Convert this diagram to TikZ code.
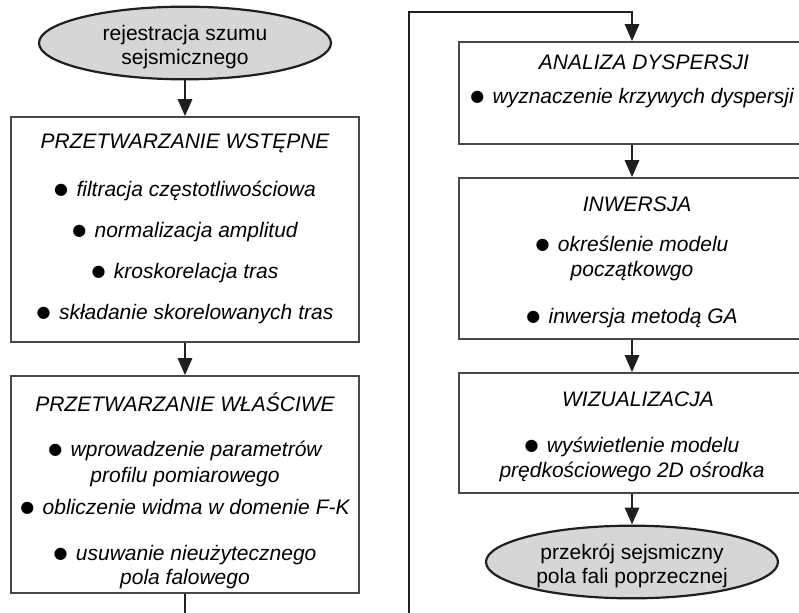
\documentclass[tikz,border=0pt]{standalone}
\usepackage{fontspec}
\setmainfont{Liberation Sans}
\newfontfamily\dotfont{DejaVu Sans}
\usepackage{xcolor}
\usetikzlibrary{arrows.meta, shapes.geometric, positioning}

\definecolor{ovalfill}{gray}{0.84}
\definecolor{boxline}{gray}{0.28}
\definecolor{flowline}{gray}{0.12}
\newcommand{\itemdot}{\raisebox{2.5pt}{\dotfont\upshape\fontsize{16}{24}\selectfont ●}\hspace{0.4em}}
\newcommand{\capstrut}{\rule{0pt}{20pt}}
\newcommand{\ovalstrut}{\rule{0pt}{23pt}}

\begin{document}
\begin{tikzpicture}[
    x=1pt, y=-1pt,
    font=\fontsize{21}{24}\selectfont,
    stage/.style={draw=boxline, line width=1.6pt, fill=white, inner sep=0pt},
    caption/.style={align=center, inner sep=0pt, font=\fontsize{21}{24}\selectfont\itshape},
    oval/.style={draw=flowline, line width=2.2pt, ellipse, fill=ovalfill, align=center, inner sep=0pt, minimum width=292pt},
    flow/.style={draw=flowline, line width=2.8pt, -{Triangle[length=17pt, width=14pt]}}
]

% Kadr rysunku
\clip (0,0) rectangle (799,612);

% Lewa kolumna
\node[oval, minimum height=62pt] (record) at (185,43) {\ovalstrut rejestracja szumu\\sejsmicznego};

\node[stage, minimum width=348pt, minimum height=225pt] (pre) at (185,229.5) {};
\node[caption, below=12.5pt of pre.north] (preText) {\capstrut PRZETWARZANIE WSTĘPNE\\[24pt]
    \itemdot filtracja częstotliwościowa\\[17pt]
    \itemdot normalizacja amplitud\\[17pt]
    \itemdot kroskorelacja tras\\[17pt]
    \itemdot składanie skorelowanych tras};

\node[stage, minimum width=348pt, minimum height=217pt] (proper) at (185,484.5) {};
\node[caption, below=16.5pt of proper.north] (properText) {\capstrut PRZETWARZANIE WŁAŚCIWE\\[21pt]
    \itemdot wprowadzenie parametrów\\[2pt]
    profilu pomiarowego\\[8pt]
    \itemdot obliczenie widma w domenie F-K\\[22pt]
    \itemdot usuwanie nieużytecznego\\
    pola falowego};

% Prawa kolumna
\node[stage, minimum width=346pt, minimum height=102pt] (disp) at (632,93) {};
\node[caption, below=8.5pt of disp.north] (dispText) {\capstrut\hspace{24pt}ANALIZA DYSPERSJI\\[10pt]
    \itemdot wyznaczenie krzywych dyspersji};

\node[stage, minimum width=346pt, minimum height=161pt] (inv) at (632,258.5) {};
\node[caption, below=14.5pt of inv.north] (invText) {\capstrut\hspace{10pt}INWERSJA\\[16pt]
    \itemdot określenie modelu\\[1pt]
    początkowgo\\[23pt]
    \itemdot inwersja metodą GA};

\node[stage, minimum width=346pt, minimum height=120pt] (viz) at (632,433) {};
\node[caption, below=14.5pt of viz.north] (vizText) {\capstrut\hspace{12pt}WIZUALIZACJA\\[22pt]
    \itemdot wyświetlenie modelu\\[1pt]
    prędkościowego 2D ośrodka};

\node[oval, minimum height=72pt] (section) at (632,562) {\ovalstrut przekrój sejsmiczny\\pola fali poprzecznej};

% Punkty przejścia między kolumnami
\coordinate (dropL) at (185,640);
\coordinate (dropR) at (409,640);
\coordinate (riseR) at (409,12);
\coordinate (overR) at (632,12);

% Połączenia
\draw[flow] (record) -- (pre);
\draw[flow] (pre) -- (proper);
\draw[flow] (proper) -- (dropL) -- (dropR) -- (riseR) -- (overR) -- (disp);
\draw[flow] (disp) -- (inv);
\draw[flow] (inv) -- (viz);
\draw[flow] (viz) -- (section);

\end{tikzpicture}
\end{document}
